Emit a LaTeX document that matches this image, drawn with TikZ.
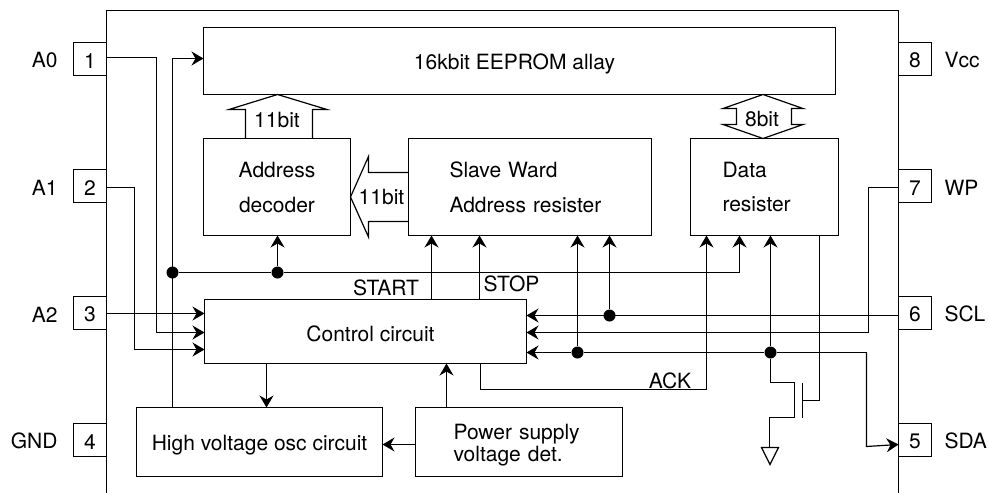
\documentclass[tikz,border=0pt]{standalone}
\usepackage{fontspec}
\setmainfont{TeX Gyre Heros}
\usetikzlibrary{positioning, arrows.meta}

\tikzset{
    >={Stealth[length=12pt, width=14pt, inset=4pt]},
    every path/.style={line width=1.2pt},
    blk/.style={draw, outer sep=0pt, inner sep=0pt, font=\fontsize{21}{35}\selectfont},
    leftblk/.style 2 args={blk, align=left, inner xsep=#1, text width=#2},
    pin/.style={blk, minimum width=33pt, minimum height=33pt, text height=18pt},
    pinname/.style={outer sep=0pt, inner sep=0pt, font=\fontsize{21}{24}\selectfont, text height=18pt},
    sig/.style={outer sep=0pt, inner sep=0pt, font=\fontsize{21}{24}\selectfont},
    dot/.style={circle, fill=black, inner sep=0pt, minimum size=12pt},
}

\begin{document}
\begin{tikzpicture}[x=1pt, y=-1pt]
        \useasboundingbox (0,0) rectangle (989,493);

        % package
        \draw (106.5,493) -- (106.5,10.5) -- (898.5,10.5) -- (898.5,493);

        % pins
        \node[pin] at (90,59)                (pin1) {1};
        \node[pin, below=94pt of pin1]       (pin2) {2};
        \node[pin, below=94pt of pin2]       (pin3) {3};
        \node[pin, below=94pt of pin3]       (pin4) {4};
        \node[pin, right=792pt of pin1]      (pin8) {8};
        \node[pin, right=792pt of pin2]      (pin7) {7};
        \node[pin, right=792pt of pin3]      (pin6) {6};
        \node[pin, right=792pt of pin4]      (pin5) {5};

        \node[pinname, left=16pt of pin1]    (a0)  {A0};
        \node[pinname, left=16pt of pin2]    (a1)  {A1};
        \node[pinname, left=16pt of pin3]    (a2)  {A2};
        \node[pinname, left=16pt of pin4]    (gnd) {GND};
        \node[pinname, right=13pt of pin8]   (vcc) {Vcc};
        \node[pinname, right=13pt of pin7]   (wp)  {WP};
        \node[pinname, right=13pt of pin6]   (scl) {SCL};
        \node[pinname, right=13pt of pin5]   (sda) {SDA};

        % blocks
        \node[blk, minimum width=632pt, minimum height=67pt, text height=20pt, text depth=4pt] at (519.5,61) (eeprom) {16kbit EEPROM allay\hspace*{10pt}};
        \node[blk, minimum width=147pt, minimum height=97pt, align=center, below right=44pt and 0pt of eeprom.south west, anchor=north west] (dec) {Address\\decoder};
        \node[blk, leftblk={41pt}{161pt}, minimum height=97pt, right=58pt of dec] (slave) {Slave Ward\\Address resister};
        \node[blk, leftblk={32pt}{84pt}, minimum height=97pt, right=39pt of slave] (data) {Data\\resister};
        \node[blk, minimum width=322pt, minimum height=64pt, text height=21pt] at (365.5,331.5) (ctrl) {\hspace*{10pt}Control circuit};
        \node[blk, minimum width=246pt, minimum height=69pt, text height=21pt, text depth=4pt] at (259.5,442) (osc) {High voltage osc circuit};
        \node[blk, leftblk={38pt}{131pt}, minimum height=69pt, right=33pt of osc, font=\fontsize{21}{22}\selectfont, text height=21pt] (supply) {Power supply\\voltage det.};

        % junctions
        \node[dot] at (172.5,272.5) (dot osc) {};
        \node[dot] at (277.5,272.5) (dot dec) {};
        \node[dot] at (609.5,315.5) (dot scl) {};
        \node[dot] at (577.5,352.5) (dot sda) {};
        \node[dot] at (770.5,352.5) (dot out) {};

        % bends
        \coordinate (a0 bus) at (156.5,332.5);
        \coordinate (a1 bus) at (134.5,349.5);
        \coordinate (a2 in) at (204.5,313.5);
        \coordinate (wp bus) at (868.5,332.5);
        \coordinate (sda bus) at (866.5,352.5);
        \coordinate (sda end) at (866.5,446.5);
        \coordinate (sda in) at (898.5,444.5);
        \coordinate (clk up) at (739.5,272.5);
        \coordinate (ack a) at (480.5,389.5);
        \coordinate (ack b) at (706.5,389.5);
        \coordinate (start up) at (431.5,272.5);
        \coordinate (stop up) at (479.5,272.5);
        \coordinate (rom in) at (203.5,58.5);
        \coordinate (osc in) at (382.5,444.5);
        \coordinate (supply out) at (415.5,444.5);

        % to control circuit
        \draw[->] ([yshift=1.5pt]pin1.east) -| (a0 bus) -- (ctrl.west|-a0 bus);
        \draw[->] ([yshift=-1.5pt]pin2.east) -| (a1 bus) -- (ctrl.west|-a1 bus);
        \draw[->] ([yshift=-.5pt]pin3.east) -- (a2 in);
        \draw[->] ([yshift=-2.5pt]pin6.west) -- (ctrl.east|-dot scl);
        \draw[->] ([yshift=-1.5pt]pin7.west) -| (wp bus) -- (ctrl.east|-wp bus);
        \draw[->] (dot sda) -- (ctrl.east|-dot sda);
        \draw (sda bus) -- (dot out);
        \draw (dot out) -- (dot sda);
        \draw[->] (sda bus) -- (sda end) -- (sda in);

        % high voltage line and address bus
        \draw[->] (osc.north-|dot osc) |- (rom in);
        \draw (dot osc) -- (dot dec);
        \draw[->] (dot dec) -- (clk up) -- (data.south-|clk up);
        \draw[->] (dot dec) -- (dec.south-|dot dec);

        % up to the resisters
        \draw[->] (ctrl.north-|start up) -- (slave.south-|start up);
        \draw[->] (ctrl.north-|stop up) -- (slave.south-|stop up);
        \draw[->] (dot sda) -- (slave.south-|dot sda);
        \draw[->] (dot scl) -- (slave.south-|dot scl);
        \draw[->] (ctrl.south-|ack a) -- (ack a) -- (ack b) -- (data.south-|ack b);
        \draw[->] (dot out) -- (data.south-|dot out);

        % between control, oscillator and supply
        \draw[->] (ctrl.south-|266.5,0) -- (osc.north-|266.5,0);
        \draw[->] (supply.north-|446.5,0) -- (ctrl.south-|446.5,0);
        \draw[->] (supply out) -- (osc in);

        % output transistor
        \coordinate (fet a) at (770.5,382.5);
        \coordinate (fet b) at (794.5,382.5);
        \coordinate (fet c) at (794.5,417.5);
        \coordinate (fet d) at (769.5,417.5);
        \coordinate (earth) at (769.5,447.5);
        \coordinate (gate) at (819.5,400.5);
        \draw (dot out) -- (fet a) -- (fet b) -- (fet c) -- (fet d) -- (earth);
        \draw (761.5,447.5) -- (778.5,447.5) -- (770,464.5) -- cycle;
        \draw (802.5,383) -- (802.5,417.5);
        \draw (802.5,400.5) -- (gate) -- (data.south-|gate);

        % wide arrows
        \draw (245.5,138.5) -- (245.5,109.5) -- (229,109.5) -- (277.5,94.5) -- (327,109.5) -- (312.5,109.5) -- (312.5,138.5);
        \draw (408.5,172.5) -- (368.5,172.5) -- (368.5,156.5) -- (350.5,197) -- (368.5,237) -- (368.5,221.5) -- (408.5,221.5);
        \draw (736.5,108.5) -- (723,108.5) -- (763,94.5) -- (803,108.5) -- (791.5,108.5) -- (791.5,124.5) -- (803,124.5) -- (763,138.5) -- (723,124.5) -- (736.5,124.5) -- cycle;
        \node[sig] at (277,120.5) (addr width) {11bit};
        \node[sig] at (381.5,197) (slave width) {11bit};
        \node[sig] at (762,118.5) (data width) {8bit};

        % signal names
        \node[sig] at (386,288) (start) {START};
        \node[sig] at (511.5,284) (stop) {STOP};
        \node[sig] at (670,381) (ack) {ACK};
\end{tikzpicture}
\end{document}
